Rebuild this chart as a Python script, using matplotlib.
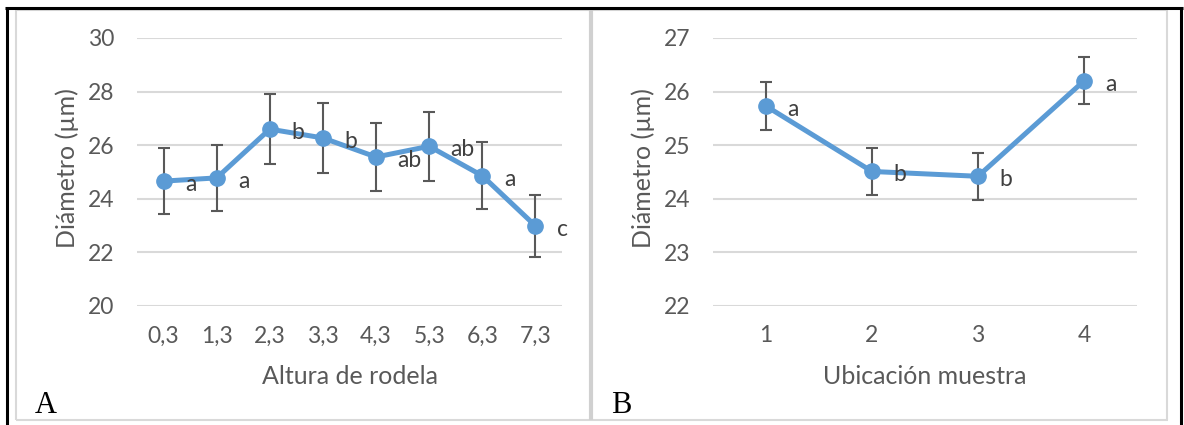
import matplotlib
matplotlib.use("Agg")
import matplotlib.pyplot as plt
from matplotlib.lines import Line2D

# ---- data ----
alturas = ["0,3", "1,3", "2,3", "3,3", "4,3", "5,3", "6,3", "7,3"]
diam_altura = [24.66, 24.78, 26.60, 26.27, 25.56, 25.96, 24.86, 22.99]
err_altura = [1.24, 1.24, 1.32, 1.31, 1.27, 1.29, 1.25, 1.15]
letras_altura = ["a", "a", "b", "b", "ab", "ab", "a", "c"]

ubicaciones = ["1", "2", "3", "4"]
diam_ubic = [25.73, 24.51, 24.42, 26.20]
err_ubic = [0.44, 0.44, 0.44, 0.44]
letras_ubic = ["a", "b", "b", "a"]

W, H = 1184, 425
fig = plt.figure(figsize=(W / 100, H / 100), dpi=100)
fig.patch.set_facecolor("white")

FONT = ["Lato", "DejaVu Sans"]
TXT = "#595959"
BLUE = "#5B9BD5"
GRID = "#D9D9D9"


def fx(px):
    return px / W


def fy(py):
    return 1 - py / H


def hline(x0, x1, y, color, lw):
    fig.lines.append(Line2D([fx(x0), fx(x1)], [fy(y), fy(y)], transform=fig.transFigure,
                            color=color, lw=lw, solid_capstyle="butt"))


def vline(x, y0, y1, color, lw):
    fig.lines.append(Line2D([fx(x), fx(x)], [fy(y0), fy(y1)], transform=fig.transFigure,
                            color=color, lw=lw, solid_capstyle="butt"))


def panel(rect_px, cats, vals, errs, letters, ylim, yticks, xlabel):
    x0, y0, x1, y1 = rect_px
    ax = fig.add_axes([fx(x0), fy(y1), fx(x1 - x0), (y1 - y0) / H])
    xs = list(range(len(cats)))
    ax.errorbar(xs, vals, yerr=errs, fmt="none", ecolor="#595959", elinewidth=1.5,
                capsize=4.3, capthick=1.5, zorder=3)
    ax.plot(xs, vals, color=BLUE, lw=3.6, marker="o", markersize=11,
            markerfacecolor=BLUE, markeredgecolor=BLUE, zorder=4)
    for x, v, t in zip(xs, vals, letters):
        ax.annotate(t, (x, v), xytext=(15.5, -2.5), textcoords="offset points",
                    ha="left", va="center", fontsize=16.5, color="#404040",
                    family=FONT, zorder=5)
    ax.set_xlim(-0.5, len(cats) - 0.5)
    ax.set_ylim(*ylim)
    ax.set_yticks(yticks)
    ax.set_yticklabels([str(t) for t in yticks])
    ax.set_xticks(xs)
    ax.set_xticklabels(cats)
    for s in ax.spines.values():
        s.set_visible(False)
    ax.grid(axis="y", color=GRID, lw=1.5)
    ax.set_axisbelow(True)
    ax.tick_params(axis="both", length=0, labelsize=16.5, labelcolor=TXT)
    ax.tick_params(axis="y", pad=16.5)
    ax.tick_params(axis="x", pad=14)
    for lab in ax.get_xticklabels() + ax.get_yticklabels():
        lab.set_family(FONT)
    ax.set_xlabel(xlabel, fontsize=18, color=TXT, family=FONT, va="center", ha="center")
    ax.set_ylabel("Diámetro (µm)", fontsize=18, color=TXT, family=FONT, va="center", ha="center")
    w = x1 - x0
    h = y1 - y0
    ax.xaxis.set_label_coords(0.5, (y1 - 377) / h)
    ax.yaxis.set_label_coords((x0 - 70 - x0 + (x0 - 137) * 0) / w, (y1 - 168) / h)
    ax.set_facecolor("none")
    return ax


panel((137, 38, 562, 306), alturas, diam_altura, err_altura, letras_altura,
      (20, 30), [20, 22, 24, 26, 28, 30], "Altura de rodela")
panel((713, 38, 1137, 306), ubicaciones, diam_ubic, err_ubic, letras_ubic,
      (22, 27), [22, 23, 24, 25, 26, 27], "Ubicación muestra")

# chart-area borders (light gray)
hline(16, 1168, 10, GRID, 1.5)
hline(16, 1168, 420, GRID, 1.5)
vline(16, 10, 420, GRID, 1.5)
vline(591, 10, 420, "#D0D0D0", 3.0)
vline(1167, 10, 420, GRID, 1.5)

# table borders (black)
hline(5, 1183, 8, "black", 2.2)
vline(7, 7, 425, "black", 2.2)
vline(1181, 7, 425, "black", 2.2)

# panel letters
fig.text(fx(46), fy(413), "A", fontsize=22, family=["Liberation Serif", "DejaVu Serif"],
         ha="center", va="baseline", color="black")
fig.text(fx(621), fy(413), "B", fontsize=22, family=["Liberation Serif", "DejaVu Serif"],
         ha="center", va="baseline", color="black")

fig.savefig("out.png", dpi=100, facecolor="white")
